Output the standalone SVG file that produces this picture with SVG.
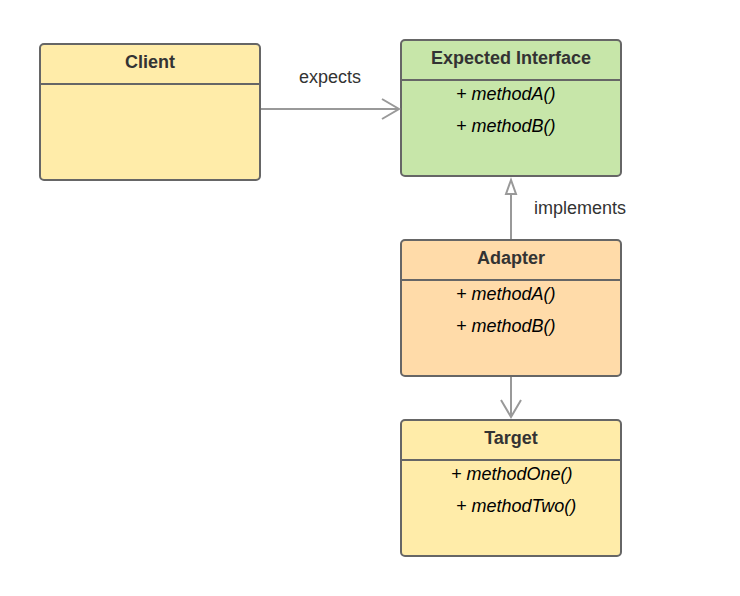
<svg xmlns="http://www.w3.org/2000/svg" width="740" height="596" viewBox="0 0 740 596">
<style>
.box{stroke:#666;stroke-width:2}
.div{stroke:#666;stroke-width:2}
.title{font-family:"Liberation Sans",Arial,sans-serif;font-size:18px;font-weight:bold;fill:#333;text-anchor:middle}
.m{font-family:"Liberation Sans",Arial,sans-serif;font-size:18px;font-style:italic;fill:#000}
.lbl{font-family:"Liberation Sans",Arial,sans-serif;font-size:18px;fill:#333;text-anchor:middle}
.con{stroke:#999;stroke-width:2;fill:none}
</style>
<rect width="740" height="596" fill="#fff"/>
<g id="client">
<rect class="box" x="40" y="44" width="220" height="136" rx="4" fill="#ffeca9"/>
<line class="div" x1="40" y1="84" x2="260" y2="84"/>
<text class="title" x="150" y="68">Client</text>
</g>
<g id="expected-interface">
<rect class="box" x="401" y="40" width="220" height="136" rx="4" fill="#c7e6a9"/>
<line class="div" x1="401" y1="80" x2="621" y2="80"/>
<text class="title" x="511" y="64">Expected Interface</text>
<text class="m" x="456" y="100">+ methodA()</text>
<text class="m" x="456" y="132">+ methodB()</text>
</g>
<g id="adapter">
<rect class="box" x="401" y="240" width="220" height="136" rx="4" fill="#ffdba9"/>
<line class="div" x1="401" y1="280" x2="621" y2="280"/>
<text class="title" x="511" y="264">Adapter</text>
<text class="m" x="456" y="300">+ methodA()</text>
<text class="m" x="456" y="332">+ methodB()</text>
</g>
<g id="target">
<rect class="box" x="401" y="420" width="220" height="136" rx="4" fill="#ffeca9"/>
<line class="div" x1="401" y1="460" x2="621" y2="460"/>
<text class="title" x="511" y="444">Target</text>
<text class="m" x="451" y="480">+ methodOne()</text>
<text class="m" x="456" y="512">+ methodTwo()</text>
</g>
<g id="connectors">
<line class="con" x1="261" y1="109" x2="399" y2="109"/>
<polyline class="con" points="382,99 399,109 382,119"/>
<text class="lbl" x="330" y="83">expects</text>
<line class="con" x1="511" y1="239" x2="511" y2="194"/>
<polygon points="511,180 506,194 516,194" fill="#fff" stroke="#999" stroke-width="2"/>
<text class="lbl" x="580" y="214">implements</text>
<line class="con" x1="511" y1="377" x2="511" y2="417"/>
<polyline class="con" points="501,400 511,417 521,400"/>
</g>
</svg>
